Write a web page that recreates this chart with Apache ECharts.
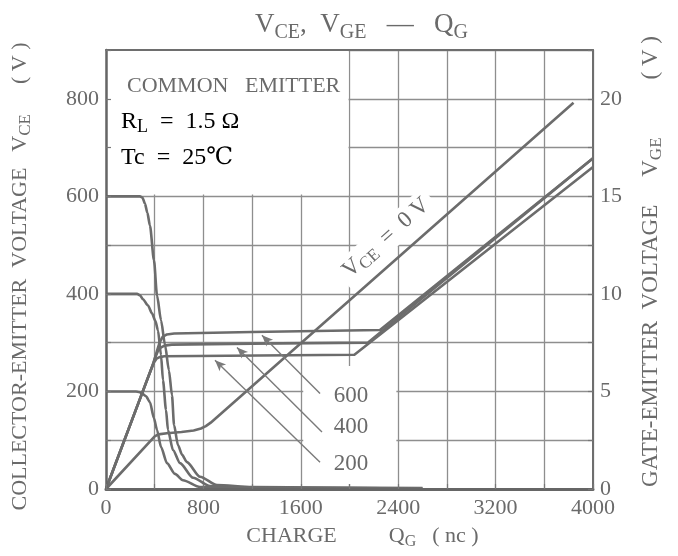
<!DOCTYPE html>
<html><head><meta charset="utf-8">
<script src="https://cdn.jsdelivr.net/npm/echarts@6/dist/echarts.min.js"></script>
<style>html,body{margin:0;padding:0;background:#fff}#c{width:678px;height:556px}</style>
</head><body><div id="c"></div>
<script>
// ---- data (Q in nC, VCE in V, VGE in V) ----
const xTickLabels = [0, 800, 1600, 2400, 3200, 4000];
const vceTickLabels = [0, 200, 400, 600, 800];
const vgeTickLabels = [0, 5, 10, 15, 20];

const vce600 = [[0,600],[279,600],[300,597],[320,585],[340,566],[361,540],[394,469],[419,397],[452,346],[485,295],[517,243],[542,192],[559,131],[591,90],[625,70],[665,55],[772,25],[912,8],[1200,4],[1800,3],[2600,2]];
const vce400 = [[0,400],[255,400],[280,397],[304,389],[345,376],[378,360],[405,345],[427,325],[452,274],[468,223],[493,162],[509,121],[550,80],[608,53],[715,23],[854,6],[1200,3],[2000,2],[2600,1]];
const vce200 = [[0,200],[246,200],[272,199],[296,196],[329,190],[361,178],[394,145],[419,121],[452,86],[501,53],[567,31],[632,18],[772,4],[1100,2],[2000,1],[2500,1]];

const vge600 = [[0,0],[337,5.58],[390,6.45],[420,7.1],[440,7.5],[465,7.8],[500,7.92],[560,7.97],[1200,8.05],[2250,8.15],[4000,16.95]];
const vge400 = [[0,0],[337,5.58],[380,6.3],[405,6.75],[425,7.05],[450,7.25],[480,7.35],[540,7.4],[1200,7.45],[2150,7.5],[4000,16.95]];
const vge200 = [[0,0],[337,5.58],[375,6.2],[395,6.5],[415,6.68],[440,6.76],[480,6.8],[1000,6.83],[2040,6.88],[4000,16.5]];
const vgeVce0 = [[0,0],[400,2.7],[430,2.8],[500,2.86],[620,2.92],[720,3.0],[780,3.1],[820,3.22],[860,3.4],[3840,19.8]];

// annotation anchors in data coordinates [Q, VCE-scale]
const arrowLines = [
  {label:'600', from:[1758,196], to:[1281,315], text:[2012,190]},
  {label:'400', from:[1774,117], to:[1076,290], text:[2012,127]},
  {label:'200', from:[1758,55],  to:[895,264],  text:[2012,51]}
];
const vce0Label = [2300, 515];
const infoBoxArea = [[0,604],[1992,900]];
const labelBoxArea = [[1620,10],[2385,252]];

// ---- styles ----
const F = '"Liberation Serif", "DejaVu Serif", serif';
const TC = '#6a6a6a';
const LC = '#6c6c6c';
const GC = '#8e8e8e';
const lineW = 2.6;

function curve(name, data, yIdx, smooth){
  return {name, type:'line', xAxisIndex:0, yAxisIndex:yIdx, data, showSymbol:false, symbol:'none',
    smooth: smooth, smoothMonotone:'x', lineStyle:{color:LC, width:lineW, join:'round'}, z:2, silent:true};
}

const chart = echarts.init(document.getElementById('c'));
const sub = (fs, lh) => ({fontFamily:F, fontSize:fs, fontWeight:'normal', color:TC, lineHeight:lh, verticalAlign:'bottom'});
const main = (fs, lh) => ({fontFamily:F, fontSize:fs, fontWeight:'normal', color:TC, lineHeight:lh, verticalAlign:'middle'});
const gap = (w) => ({width:w, lineHeight:28});

chart.setOption({
  animation:false,
  backgroundColor:'#fff',
  title:{
    text:'{a|V}{s|CE}{a|,  V}{s|GE}{a|   —   Q}{s|G}',
    left:250, top:2,
    textStyle:{fontWeight:'normal', rich:{a:main(27,36), s:sub(20,28)}}
  },
  grid:{left:106, right:85, top:50, bottom:67, show:false},
  xAxis:[
    {type:'value', min:0, max:4000, interval:400, position:'bottom',
     axisLine:{show:false}, axisTick:{show:false}, axisLabel:{show:false},
     splitLine:{show:true, lineStyle:{color:GC, width:1.3}}, z:0},
    {type:'value', min:0, max:4000, interval:400, position:'bottom',
     axisLine:{onZero:false, lineStyle:{color:'#666', width:3}},
     axisTick:{inside:true, length:5, lineStyle:{color:'#777', width:1.2}},
     axisLabel:{margin:8, color:TC, fontFamily:F, fontSize:22,
       formatter:v => xTickLabels.includes(v) ? String(v) : ''},
     splitLine:{show:false},
     name:'{g0|}{a|CHARGE}{g1|}{a|Q}{s|G}{g2|}{a|( nc )}', nameLocation:'middle', nameGap:33,
     nameTextStyle:{rich:{a:main(22,28), s:sub(16,22), g0:gap(26), g1:gap(52), g2:gap(16)}}, z:3},
    {type:'value', min:0, max:4000, interval:400, position:'top',
     axisLine:{onZero:false, lineStyle:{color:'#6e6e6e', width:2}},
     axisTick:{show:false}, axisLabel:{show:false}, splitLine:{show:false}, z:3}
  ],
  yAxis:[
    {type:'value', min:0, max:900, interval:100, position:'left',
     axisLine:{show:false}, axisTick:{show:false}, axisLabel:{show:false},
     splitLine:{show:true, lineStyle:{color:GC, width:1.3}}, z:0},
    {type:'value', min:0, max:22.5, interval:2.5, position:'right',
     axisLine:{onZero:false, lineStyle:{color:'#6e6e6e', width:2}},
     axisTick:{inside:true, length:5, lineStyle:{color:'#777', width:1.2}},
     axisLabel:{margin:7, color:TC, fontFamily:F, fontSize:22,
       formatter:v => vgeTickLabels.includes(v) ? String(v) : ''},
     splitLine:{show:false},
     name:'{g0|}{a|GATE-EMITTER  VOLTAGE}{g1|}{a|V}{s|GE}{g2|}{a|( V )}', nameLocation:'middle', nameGap:44, nameRotate:90,
     nameTextStyle:{rich:{a:main(23,28), s:sub(17,22), g0:gap(16), g1:gap(28), g2:gap(58)}}, z:3},
    {type:'value', min:0, max:900, interval:100, position:'left',
     axisLine:{onZero:false, lineStyle:{color:'#666', width:2.5}},
     axisTick:{inside:true, length:5, lineStyle:{color:'#777', width:1.2}},
     axisLabel:{margin:7, color:TC, fontFamily:F, fontSize:22,
       formatter:v => vceTickLabels.includes(v) ? String(v) : ''},
     splitLine:{show:false},
     name:'{a|COLLECTOR-EMITTER  VOLTAGE}{g1|}{a|V}{s|CE}{g2|}{a|( V )}{g3|}', nameLocation:'middle', nameGap:72, nameRotate:90,
     nameTextStyle:{rich:{a:main(22,28), s:sub(17,22), g1:gap(16), g2:gap(30), g3:gap(14)}}, z:3}
  ],
  graphic:[
    {type:'text', left:127, top:75, z:10, style:{text:'COMMON   EMITTER', font:'22px ' + F, fill:TC}},
    {type:'text', left:121, top:110, z:10, style:{text:'{a|R}{s|L}{a|  =  1.5 Ω}', rich:{a:main(24,28), s:sub(18,22)}}},
    {type:'text', left:121, top:146, z:10, style:{text:'{a|Tc  =  25℃}', rich:{a:main(24,28)}}}
  ],
  series:[
    {type:'line', xAxisIndex:0, yAxisIndex:0, data:[], silent:true,
     markArea:{silent:true, z:1, itemStyle:{color:'#fff', borderWidth:0},
       data:[[{coord:infoBoxArea[0]},{coord:infoBoxArea[1]}],[{coord:labelBoxArea[0]},{coord:labelBoxArea[1]}]]}},
    curve('VCE 600', vce600, 0, 0.25),
    curve('VCE 400', vce400, 0, 0.25),
    curve('VCE 200', vce200, 0, 0.25),
    curve('VGE 600', vge600, 1, false),
    curve('VGE 400', vge400, 1, false),
    curve('VGE 200', vge200, 1, false),
    curve('VGE VCE=0', vgeVce0, 1, false),
    {type:'line', xAxisIndex:0, yAxisIndex:0, data:[], silent:true,
     markLine:{silent:true, symbolSize:[7,11], animation:false, label:{show:false},
       lineStyle:{color:'#7a7a7a', width:1.4, type:'solid'},
       data: arrowLines.map(a => [{coord:a.from, symbol:'none'},{coord:a.to, symbol:'arrow'}])},
     markPoint:{silent:true, symbol:'circle', symbolSize:0, animation:false,
       data: arrowLines.map(a => ({coord:a.text, name:a.label,
         label:{show:true, position:'inside', formatter:a.label, color:TC, fontFamily:F, fontSize:23}}))
         .concat([{coord:vce0Label, name:'vce0',
           label:{show:true, position:'inside', rotate:41.7, backgroundColor:'#fff', padding:[0,6],
             formatter:'{a|V}{s|CE}{a|  =  0 V}', rich:{a:main(23,28), s:sub(17,22)}}}])}
    }
  ]
});
</script></body></html>
